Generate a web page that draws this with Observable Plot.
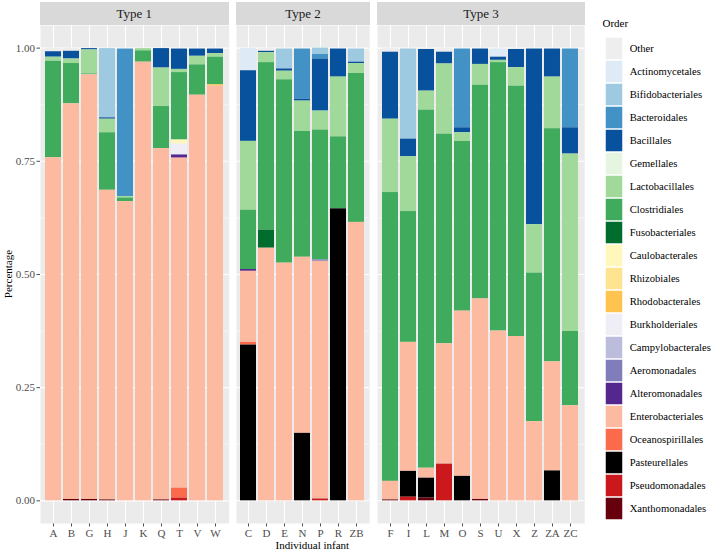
<!DOCTYPE html>
<html><head><meta charset="utf-8">
<script src="https://cdn.jsdelivr.net/npm/d3@7"></script>
<script src="https://cdn.jsdelivr.net/npm/@observablehq/plot@0.6"></script>
<style>
html,body{margin:0;padding:0;background:#fff;}
#chart{position:relative;width:714px;height:551px;font-family:"Liberation Serif",serif;overflow:hidden;}
#chart svg, #chart svg text{font-family:"Liberation Serif",serif !important;}
.pane{position:absolute;top:0;}
.pane svg{overflow:visible;}
.strip{position:absolute;top:2px;height:23px;background:#d9d9d9;color:#1a1a1a;font-family:"Liberation Serif",serif;font-weight:normal;font-size:13px;line-height:23px;text-align:center;}
.atitle{position:absolute;font-family:"Liberation Serif",serif;font-size:11px;color:#000;white-space:nowrap;}
</style>
</head><body>
<div id="chart"></div>
<script>
// ---- data ----
const type1 = ["A","B","G","H","J","K","Q","T","V","W"];
const type2 = ["C","D","E","N","P","R","ZB"];
const type3 = ["F","I","L","M","O","S","U","X","Z","ZA","ZC"];
const typeNames = ["Type 1","Type 2","Type 3"];
const individuals = [...type1, ...type2, ...type3];

const orders = ["Other","Actinomycetales","Bifidobacteriales","Bacteroidales","Bacillales","Gemellales","Lactobacillales","Clostridiales","Fusobacteriales","Caulobacterales","Rhizobiales","Rhodobacterales","Burkholderiales","Campylobacterales","Aeromonadales","Alteromonadales","Enterobacteriales","Oceanospirillales","Pasteurellales","Pseudomonadales","Xanthomonadales"];
const colors = ["#eeeeee","#deebf7","#9ecae1","#4292c6","#08519c","#e5f5e0","#a1d99b","#41ab5d","#006d2c","#fff7bc","#fee391","#fec44f","#efedf5","#bcbddc","#807dba","#54278f","#fcbba1","#fb6a4a","#000000","#cb181d","#67000d"];

// values per order, individuals in order: A B G H J K Q T V W | C D E N P R ZB | F I L M O S U X Z ZA ZC
const Other             = [0.008,0.007,0.001,0.001,0.002,0.001,0.001,0.002,0.002,0.002, 0.001,0.007,0.002,0.002,0,0.002,0.002, 0.009,0.002,0.003,0.009,0.002,0.002,0.002,0.003,0.002,0.002,0.002];
const Actinomycetales   = [0,0,0,0,0,0,0,0,0,0, 0.049,0,0,0,0,0,0, 0,0,0,0,0,0,0.018,0,0,0,0];
const Bifidobacteriales = [0,0,0,0.153,0,0,0,0,0,0, 0,0,0.044,0,0.014,0,0.029, 0,0.199,0,0,0,0,0,0,0,0,0];
const Bacteroidales     = [0,0,0,0,0.326,0,0,0,0,0, 0,0,0,0.111,0.010,0,0, 0,0,0,0,0.174,0,0,0,0,0,0.174];
const Bacillales        = [0.012,0.017,0.003,0.003,0,0,0.043,0.045,0.016,0.010, 0.156,0.003,0.005,0.004,0.115,0.062,0.003, 0.148,0.039,0.092,0.026,0.011,0.034,0.007,0.040,0.388,0.062,0.058];
const Gemellales        = [0,0,0,0,0,0,0,0,0,0, 0,0,0,0,0,0,0, 0,0,0,0,0,0,0,0,0,0,0];
const Lactobacillales   = [0.009,0.010,0.053,0.030,0.003,0.005,0.085,0.007,0.019,0.008, 0.152,0.022,0.019,0.067,0.042,0.132,0.022, 0.162,0.121,0.042,0.155,0.019,0.046,0.005,0.041,0.107,0.114,0.392];
const Clostridiales     = [0.213,0.089,0.002,0.127,0.008,0.025,0.093,0.149,0.067,0.061, 0.131,0.370,0.405,0.278,0.287,0.159,0.329, 0.638,0.289,0.791,0.463,0.375,0.472,0.593,0.553,0.328,0.515,0.164];
const Fusobacteriales   = [0,0,0,0,0,0,0,0,0,0, 0,0.040,0,0,0,0,0, 0,0,0,0,0,0,0,0,0,0,0];
const Caulobacterales   = [0,0,0,0,0,0,0,0.009,0,0, 0,0,0,0,0,0,0, 0,0,0,0,0,0,0,0,0,0,0];
const Rhizobiales       = [0,0,0,0,0,0,0,0,0,0, 0,0,0,0,0,0,0, 0,0,0,0,0,0,0,0,0,0,0];
const Rhodobacterales   = [0,0,0,0,0,0,0,0,0,0.003, 0,0,0,0,0,0,0, 0,0,0,0,0,0,0,0,0,0,0];
const Burkholderiales   = [0,0,0,0,0,0,0,0.024,0,0, 0,0,0,0,0,0,0, 0,0,0,0,0,0,0,0,0,0,0];
const Campylobacterales = [0,0,0,0,0,0,0,0,0,0, 0,0,0,0,0,0,0, 0,0,0,0,0,0,0,0,0,0,0];
const Aeromonadales     = [0,0,0,0,0,0,0,0,0,0, 0,0,0,0,0.003,0,0, 0,0,0,0,0,0,0,0,0,0,0];
const Alteromonadales   = [0,0,0,0,0,0,0,0.007,0,0, 0.004,0,0,0,0,0,0, 0,0,0,0,0,0,0,0,0,0,0];
const Enterobacteriales = [0.758,0.874,0.938,0.684,0.661,0.969,0.776,0.729,0.896,0.916, 0.157,0.558,0.525,0.389,0.525,0,0.615, 0.041,0.285,0.022,0.266,0.365,0.443,0.375,0.363,0.175,0.241,0.210];
const Oceanospirillales = [0,0,0,0,0,0,0,0.022,0,0, 0.006,0,0,0,0,0,0, 0,0,0,0,0,0,0,0,0,0,0];
const Pasteurellales    = [0,0,0,0,0,0,0,0,0,0, 0.344,0,0,0.149,0,0.645,0, 0,0.057,0.044,0,0.054,0,0,0,0,0.066,0];
const Pseudomonadales   = [0,0,0,0,0,0,0,0.006,0,0, 0,0,0,0,0.004,0,0, 0,0.008,0,0.081,0,0,0,0,0,0,0];
const Xanthomonadales   = [0,0.003,0.003,0.002,0,0,0.002,0,0,0, 0,0,0,0,0,0,0, 0.002,0,0.006,0,0,0.003,0,0,0,0,0];

const seriesByOrder = [Other,Actinomycetales,Bifidobacteriales,Bacteroidales,Bacillales,Gemellales,Lactobacillales,Clostridiales,Fusobacteriales,Caulobacterales,Rhizobiales,Rhodobacterales,Burkholderiales,Campylobacterales,Aeromonadales,Alteromonadales,Enterobacteriales,Oceanospirillales,Pasteurellales,Pseudomonadales,Xanthomonadales];
const yMajor = [0, 0.25, 0.5, 0.75, 1];
const yMinor = [0.125, 0.375, 0.625, 0.875];

// ---- table ----
const rows = [];
orders.forEach((o, k) => {
  individuals.forEach((id, i) => {
    const v = seriesByOrder[k][i];
    if (v > 0) rows.push({id, order: o, value: v});
  });
});
const stackOrder = orders.slice().reverse();

const chart = document.getElementById("chart");
const font = '"Liberation Serif", serif';

function panel(ids, name, left, width, marginLeft) {
  const data = rows.filter(d => ids.includes(d.id));
  const vgrid = Plot.gridX
    ? Plot.gridX({stroke: "#ffffff", strokeOpacity: 1, strokeWidth: 1.1})
    : Plot.ruleX(ids, {x: d => d, stroke: "#ffffff", strokeWidth: 1.1});
  const svg = Plot.plot({
    width, height: 551,
    marginTop: 25, marginBottom: 28, marginLeft, marginRight: 0,
    style: {fontFamily: font, fontSize: "11px", color: "#4d4d4d", background: "transparent", overflow: "visible"},
    x: {type: "band", domain: ids, paddingInner: 0.1, paddingOuter: 0.15, tickSize: 3.5, tickPadding: 2, label: null},
    y: {domain: [-0.05, 1.05], ticks: yMajor, tickFormat: d3.format(".2f"), tickSize: 3.5, tickPadding: 2, label: null, axis: marginLeft > 0 ? "left" : null},
    color: {domain: orders, range: colors},
    marks: [
      Plot.frame({fill: "#ebebeb", stroke: "none"}),
      Plot.ruleY(yMinor, {stroke: "#ffffff", strokeWidth: 0.55}),
      Plot.ruleY(yMajor, {stroke: "#ffffff", strokeWidth: 1.1}),
      vgrid,
      Plot.barY(data, Plot.stackY({x: "id", y: "value", fill: "order", order: stackOrder}))
    ]
  });
  const wrap = document.createElement("div");
  wrap.className = "pane";
  wrap.style.left = left + "px";
  wrap.appendChild(svg);
  chart.appendChild(wrap);
  const strip = document.createElement("div");
  strip.className = "strip";
  strip.style.left = (left + marginLeft) + "px";
  strip.style.width = (width - marginLeft) + "px";
  strip.textContent = name;
  chart.appendChild(strip);
}

panel(type1, typeNames[0], 0, 228.7, 40);
panel(type2, typeNames[1], 236.4, 133.2, 0);
panel(type3, typeNames[2], 377.4, 207.2, 0);

// legend
const leg = Plot.plot({
  width: 112, height: 551,
  marginTop: 28.6, marginBottom: 21.6, marginLeft: 0, marginRight: 0,
  style: {fontFamily: font, fontSize: "10.6px", color: "#000", background: "transparent", overflow: "visible"},
  x: {type: "band", domain: ["key"], range: [0.7, 23], axis: null},
  y: {type: "band", domain: orders, padding: 0, axis: null},
  color: {domain: orders, range: colors},
  marks: [
    Plot.cell(orders, {x: () => "key", y: d => d, fill: d => d, inset: 0.75}),
    Plot.text(orders, {x: () => "key", y: d => d, text: d => d, textAnchor: "start", dx: 15.2, fill: "#000"}),
    Plot.text(["Order"], {frameAnchor: "top-left", text: d => d, dy: -9.6, textAnchor: "start", fontSize: 11, fill: "#000"})
  ]
});
const lw = document.createElement("div");
lw.className = "pane";
lw.style.left = "602px";
lw.appendChild(leg);
chart.appendChild(lw);

// axis titles
const yt = document.createElement("div");
yt.className = "atitle";
yt.textContent = "Percentage";
yt.style.left = "8px"; yt.style.top = "274px";
yt.style.transform = "translate(-50%,-50%) rotate(-90deg)";
chart.appendChild(yt);
const xt = document.createElement("div");
xt.className = "atitle";
xt.textContent = "Individual infant";
xt.style.left = "312.3px"; xt.style.top = "545px";
xt.style.transform = "translate(-50%,-50%)";
chart.appendChild(xt);
</script>
</body></html>
